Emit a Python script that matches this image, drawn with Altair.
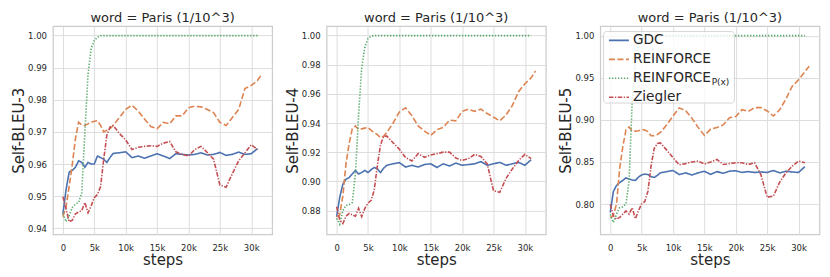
import altair as alt
import pandas as pd

STEPS = [0, 500, 1000, 1500, 2000, 2500, 3000, 3500, 4000, 4500, 5000, 5500, 6000, 6500, 7000, 7500, 8000,
         9000, 10000, 11000, 12000, 13000, 14000, 15000, 16000, 17000, 18000, 19000, 20000, 21000, 22000,
         23000, 24000, 25000, 26000, 27000, 28000, 29000, 30000, 31000, 31700]

SERIES = ["GDC", "REINFORCE", "REINFORCE_P(x)", "Ziegler"]
COLORS = ["#4C72B0", "#DD8452", "#55A868", "#C44E52"]
DASHES = [[1, 0], [6, 2.5], [1.3, 1.7], [4.5, 1.5, 1.3, 1.5]]

TITLE = "word = Paris (1/10^3)"
X_TICKS = [0, 5000, 10000, 15000, 20000, 25000, 30000]

# ---- panel 1 : Self-BLEU-3 ----
P1_GDC = [0.9445, 0.952, 0.9575, 0.958, 0.959, 0.961, 0.9605, 0.959, 0.9605, 0.960, 0.960, 0.9625, 0.962, 0.9615, 0.9605, 0.962, 0.9633,
          0.9635, 0.9638, 0.962, 0.9625, 0.9618, 0.9625, 0.9632, 0.9625, 0.9617, 0.9632, 0.963, 0.9628, 0.963, 0.9635,
          0.9628, 0.963, 0.9636, 0.9627, 0.963, 0.9637, 0.963, 0.9632, 0.9648, None]
P1_REI = [0.9436, 0.9467, 0.953, 0.960, 0.968, 0.973, 0.9722, 0.972, 0.9725, 0.973, 0.9733, 0.9735, 0.972, 0.970, 0.9705, 0.971, 0.972,
          0.9745, 0.977, 0.9783, 0.9765, 0.974, 0.9717, 0.971, 0.973, 0.9725, 0.975, 0.975, 0.9775, 0.978, 0.9778,
          0.977, 0.976, 0.973, 0.972, 0.9745, 0.977, 0.9835, 0.9845, 0.986, 0.988]
P1_RPX = [0.9445, 0.942, 0.944, 0.9465, 0.9475, 0.948, 0.951, 0.970, 0.988, 0.996, 0.9985, 0.9995, 1.0, 1.0, 1.0, 1.0, 1.0,
          1.0, 1.0, 1.0, 1.0, 1.0, 1.0, 1.0, 1.0, 1.0, 1.0, 1.0, 1.0, 1.0, 1.0,
          1.0, 1.0, 1.0, 1.0, 1.0, 1.0, 1.0, 1.0, 1.0, None]
P1_ZIE = [0.9498, 0.946, 0.942, 0.9425, 0.9445, 0.945, 0.9455, 0.948, 0.9448, 0.947, 0.9495, 0.9505, 0.953, 0.9615, 0.969, 0.9715, 0.972,
          0.9695, 0.9675, 0.9645, 0.9652, 0.9655, 0.9657, 0.9655, 0.9665, 0.967, 0.9638, 0.963, 0.9625, 0.9645, 0.9655,
          0.9636, 0.9615, 0.9535, 0.9528, 0.957, 0.961, 0.9635, 0.966, 0.9645, None]

# ---- panel 2 : Self-BLEU-4 ----
P2_GDC = [0.8755, 0.889, 0.898, 0.9015, 0.9025, 0.905, 0.9075, 0.905, 0.906, 0.9075, 0.906, 0.908, 0.9095, 0.9085, 0.906, 0.909, 0.911,
          0.912, 0.9128, 0.9098, 0.911, 0.9098, 0.9115, 0.912, 0.9095, 0.912, 0.9105, 0.9125, 0.911, 0.9115, 0.912,
          0.9135, 0.911, 0.912, 0.913, 0.911, 0.912, 0.913, 0.911, 0.9148, None]
P2_REI = [0.8757, 0.877, 0.890, 0.912, 0.926, 0.936, 0.938, 0.9355, 0.936, 0.9365, 0.937, 0.935, 0.9335, 0.932, 0.930, 0.931, 0.9335,
          0.940, 0.9475, 0.9505, 0.945, 0.938, 0.9345, 0.9315, 0.9355, 0.937, 0.942, 0.9415, 0.948, 0.9495, 0.948,
          0.9495, 0.9465, 0.944, 0.9415, 0.9455, 0.952, 0.9615, 0.967, 0.971, 0.9757]
P2_RPX = [0.8745, 0.8705, 0.880, 0.8835, 0.884, 0.8855, 0.905, 0.945, 0.978, 0.992, 0.998, 0.9995, 1.0, 1.0, 1.0, 1.0, 1.0,
          1.0, 1.0, 1.0, 1.0, 1.0, 1.0, 1.0, 1.0, 1.0, 1.0, 1.0, 1.0, 1.0, 1.0,
          1.0, 1.0, 1.0, 1.0, 1.0, 1.0, 1.0, 1.0, 1.0, None]
P2_ZIE = [0.8825, 0.8735, 0.871, 0.876, 0.878, 0.877, 0.876, 0.8815, 0.8757, 0.8814, 0.885, 0.887, 0.894, 0.911, 0.925, 0.931, 0.931,
          0.9265, 0.922, 0.9163, 0.914, 0.919, 0.9165, 0.918, 0.919, 0.92, 0.92, 0.916, 0.9143, 0.9155, 0.9185,
          0.917, 0.912, 0.8935, 0.8925, 0.902, 0.9085, 0.9143, 0.9185, 0.9155, None]

# ---- panel 3 : Self-BLEU-5 ----
P3_GDC = [0.79, 0.815, 0.822, 0.8255, 0.828, 0.831, 0.8295, 0.8285, 0.828, 0.832, 0.8345, 0.8355, 0.835, 0.8325, 0.8315, 0.834, 0.837,
          0.8385, 0.8398, 0.835, 0.837, 0.8345, 0.837, 0.8388, 0.8352, 0.8385, 0.8365, 0.839, 0.8395, 0.8375, 0.8385,
          0.8375, 0.838, 0.8375, 0.8398, 0.837, 0.839, 0.838, 0.8375, 0.8443, None]
P3_REI = [0.7838, 0.7865, 0.800, 0.842, 0.868, 0.888, 0.8915, 0.8866, 0.8866, 0.887, 0.8885, 0.888, 0.886, 0.881, 0.881, 0.8826, 0.885,
          0.894, 0.9045, 0.9142, 0.911, 0.902, 0.891, 0.8815, 0.889, 0.891, 0.894, 0.9024, 0.904, 0.912, 0.910,
          0.9145, 0.9145, 0.9105, 0.9045, 0.912, 0.925, 0.9399, 0.9475, 0.957, 0.9636]
P3_RPX = [0.7877, 0.778, 0.788, 0.7956, 0.7966, 0.800, 0.827, 0.922, 0.97, 0.99, 0.997, 0.999, 1.0, 1.0, 1.0, 1.0, 1.0,
          1.0, 1.0, 1.0, 1.0, 1.0, 1.0, 1.0, 1.0, 1.0, 1.0, 1.0, 1.0, 1.0, 1.0,
          1.0, 1.0, 1.0, 1.0, 1.0, 1.0, 1.0, 1.0, 1.0, None]
P3_ZIE = [0.7996, 0.786, 0.782, 0.784, 0.788, 0.7917, 0.788, 0.7956, 0.7825, 0.792, 0.800, 0.803, 0.815, 0.845, 0.866, 0.8718, 0.8725,
          0.864, 0.855, 0.8465, 0.848, 0.850, 0.851, 0.8475, 0.850, 0.853, 0.847, 0.848, 0.849, 0.849, 0.847,
          0.849, 0.835, 0.808, 0.8095, 0.826, 0.837, 0.845, 0.851, 0.849, None]

Y1_TICKS = [0.94, 0.95, 0.96, 0.97, 0.98, 0.99, 1.00]
Y2_TICKS = [0.88, 0.90, 0.92, 0.94, 0.96, 0.98, 1.00]
Y3_TICKS = [0.80, 0.85, 0.90, 0.95, 1.00]

X_DOMAIN = [-1590, 33340]
Y1_DOMAIN = [0.93805, 1.00295]
Y2_DOMAIN = [0.8635, 1.0065]
Y3_DOMAIN = [0.7638, 1.0113]

PANEL_W = 219.5
PANEL_H = 208.6
TEXT = "#262626"


def make_df(series_values):
    rows = []
    for name, vals in zip(SERIES, series_values):
        for s, v in zip(STEPS, vals):
            if v is not None:
                rows.append({"step": s, "value": v, "series": name})
    return pd.DataFrame(rows)


LEGEND = alt.Legend(
    title=None, orient="none", legendX=555.7, legendY=7.4,
    symbolType="stroke", symbolSize=400, symbolStrokeWidth=1.6,
    labelFontSize=13.7, labelColor=TEXT, labelOffset=3, rowPadding=4.0,
    clipHeight=13.7, padding=0, labelFont="DejaVu Sans",
    labelExpr="datum.label == 'REINFORCE_P(x)' ? 'REINFORCE' : datum.label",
)


def panel(series_values, ytitle, ydomain, yticks):
    df = make_df(series_values)
    return alt.Chart(df).mark_line(strokeWidth=1.6).encode(
        x=alt.X("step:Q", scale=alt.Scale(domain=X_DOMAIN, nice=False, zero=False),
                axis=alt.Axis(values=X_TICKS, title="steps",
                              labelExpr="datum.value == 0 ? '0' : (datum.value / 1000) + 'k'")),
        y=alt.Y("value:Q", scale=alt.Scale(domain=ydomain, nice=False, zero=False),
                axis=alt.Axis(values=yticks, format=".2f", title=ytitle)),
        color=alt.Color("series:N", scale=alt.Scale(domain=SERIES, range=COLORS), legend=LEGEND),
        strokeDash=alt.StrokeDash("series:N", scale=alt.Scale(domain=SERIES, range=DASHES), legend=LEGEND),
    )


p1 = panel([P1_GDC, P1_REI, P1_RPX, P1_ZIE], "Self-BLEU-3", Y1_DOMAIN, Y1_TICKS)
p2 = panel([P2_GDC, P2_REI, P2_RPX, P2_ZIE], "Self-BLEU-4", Y2_DOMAIN, Y2_TICKS)
p3 = panel([P3_GDC, P3_REI, P3_RPX, P3_ZIE], "Self-BLEU-5", Y3_DOMAIN, Y3_TICKS)

one = pd.DataFrame({"k": [0]})
legend_bg = alt.Chart(one).mark_rect(
    fill="white", fillOpacity=0.8, stroke="#cccccc", strokeOpacity=0.8, strokeWidth=1, cornerRadius=3
).encode(x=alt.value(3.3), x2=alt.value(134.3), y=alt.value(5.3), y2=alt.value(77))
subscript = alt.Chart(one).mark_text(
    text="P(x)", align="left", baseline="alphabetic", fontSize=9, color=TEXT, font="DejaVu Sans"
).encode(x=alt.value(111.5), y=alt.value(58.8))

c1 = p1.properties(width=PANEL_W, height=PANEL_H, title=TITLE)
c2 = p2.properties(width=PANEL_W, height=PANEL_H, title=TITLE)
c3 = alt.layer(p3, legend_bg, subscript).properties(width=PANEL_W, height=PANEL_H, title=TITLE)

chart = alt.hconcat(c1, c2, c3, spacing=54, bounds="flush").configure(
    padding={"left": 2, "top": 2, "right": 1, "bottom": 0},
    font="DejaVu Sans",
).configure_view(
    stroke="#cccccc", strokeWidth=1.25
).configure_axis(
    grid=True, gridColor="#dddddd", gridWidth=1, domain=False, ticks=False,
    labelFontSize=8.5, labelColor=TEXT, labelFont="DejaVu Sans",
    titleFontSize=15, titleFontWeight="normal", titleColor=TEXT, titleFont="DejaVu Sans",
).configure_axisY(
    labelPadding=6.5, titlePadding=1
).configure_axisX(
    labelPadding=9, titlePadding=1
).configure_title(
    fontSize=13, fontWeight="normal", color=TEXT, font="DejaVu Sans", offset=1.5, baseline="alphabetic"
)

chart.save("out.html", embed_options={"renderer": "svg", "actions": False})
